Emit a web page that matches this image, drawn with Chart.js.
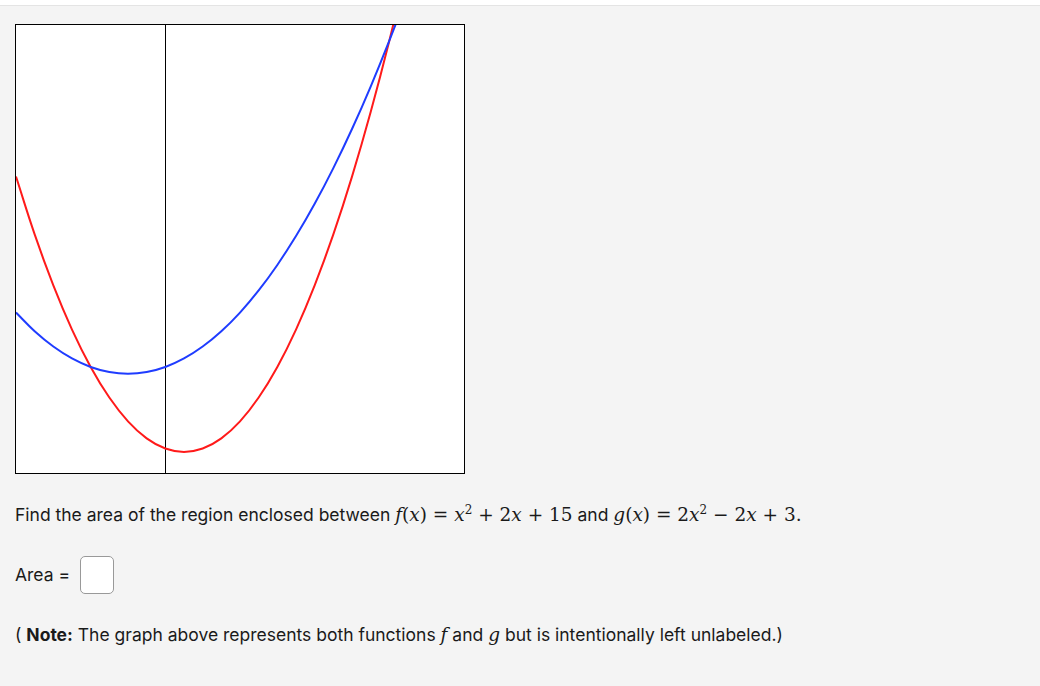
<!DOCTYPE html>
<html><head><meta charset="utf-8">
<script src="https://cdn.jsdelivr.net/npm/chart.js"></script>
<style>
body{margin:0;background:#f4f4f4;font-family:Inter,"Liberation Sans",Arial,sans-serif;color:#1a1a1a;width:1040px;height:686px;position:relative;overflow:hidden}
#top{position:absolute;left:0;top:0;width:1040px;height:5px;background:#fff;border-bottom:1px solid #e4e4e4}
#box{position:absolute;left:15px;top:24px;width:448px;height:448px;border:1px solid #000;background:#fff}
.t{position:absolute;left:15px;font-size:17.5px;white-space:nowrap}
.m{font-family:"DejaVu Serif","Liberation Serif",serif;font-size:18.5px}
.m i{font-style:italic}
#inp{position:absolute;left:80px;top:556px;width:32px;height:36px;border:1px solid #999;border-radius:5px;background:#fff}
</style></head><body>
<div id="top"></div>
<div id="box"><canvas id="c" width="448" height="448"></canvas></div>
<div class="t" style="top:503px">Find the area of the region enclosed between <span class="m"><i>f</i>(<i>x</i>) = <i>x</i><sup style="font-size:12px">2</sup> + 2<i>x</i> + 15</span> and <span class="m"><i>g</i>(<i>x</i>) = 2<i>x</i><sup style="font-size:12px">2</sup> − 2<i>x</i> + 3.</span></div>
<div class="t" style="top:564px">Area =</div>
<div id="inp"></div>
<div class="t" style="top:624px">( <b>Note:</b> The graph above represents both functions <span class="m"><i>f</i></span> and <span class="m"><i>g</i></span> but is intentionally left unlabeled.)</div>
<script>
const xs=[-4,-3.5,-3,-2.5,-2,-1.5,-1,-0.5,0,0.5,1,1.5,2,2.5,3,3.5,4,4.5,5,5.5,6,6.5,7,7.5,8];
const fVals=[23,20.25,18,16.25,15,14.25,14,14.25,15,16.25,18,20.25,23,26.25,30,34.25,39,44.25,50,56.25,63,70.25,78,86.25,95];
const gVals=[43,34.5,27,20.5,15,10.5,7,4.5,3,2.5,3,4.5,7,10.5,15,20.5,27,34.5,43,52.5,63,74.5,87,100.5,115];
const pts=v=>xs.map((x,i)=>({x:x,y:v[i]}));
const axisLine={id:'axisLine',beforeDatasetsDraw(ch){const c=ch.ctx,x=ch.scales.x.getPixelForValue(0);c.save();c.strokeStyle='#000';c.lineWidth=1;c.beginPath();c.moveTo(Math.round(x)+0.5,ch.chartArea.top);c.lineTo(Math.round(x)+0.5,ch.chartArea.bottom);c.stroke();c.restore();}};
new Chart(document.getElementById('c'),{type:'scatter',
data:{datasets:[
{data:pts(fVals),showLine:true,borderColor:'#1f3cff',borderWidth:2,pointRadius:0,tension:0.4},
{data:pts(gVals),showLine:true,borderColor:'#ff1a1a',borderWidth:2,pointRadius:0,tension:0.4}]},
options:{responsive:false,animation:false,layout:{padding:0},
plugins:{legend:{display:false},tooltip:{enabled:false}},
scales:{x:{type:'linear',min:-4,max:8,display:false},y:{min:-0.6,max:65.3,display:false}}},
plugins:[axisLine]});
</script>
</body></html>
